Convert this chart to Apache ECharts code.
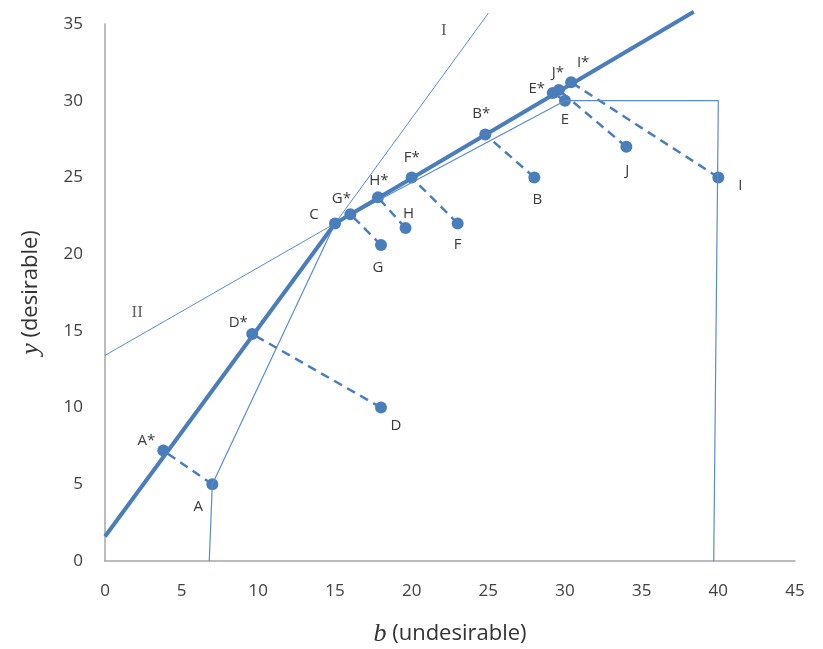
<!DOCTYPE html>
<html>
<head>
<meta charset="utf-8">
<script src="https://cdn.jsdelivr.net/npm/echarts@6/dist/echarts.min.js"></script>
<style>
  html, body { margin: 0; padding: 0; background: #fff; }
  #main { width: 823px; height: 649px; }
</style>
</head>
<body>
<div id="main"></div>
<script>
// observed units and their projections on the frontier
var names = ['A', 'B', 'C', 'D', 'E', 'F', 'G', 'H', 'I', 'J'];
var obsX = [7, 28, 15, 18, 30, 23, 18, 19.6, 40, 34];
var obsY = [5, 25, 22, 10, 30, 22, 20.6, 21.7, 25, 27];
var projX = [3.8, 24.8, 15, 9.6, 29.2, 20, 16, 17.8, 30.4, 29.6];
var projY = [7.2, 27.8, 22, 14.8, 30.5, 25, 22.6, 23.7, 31.2, 30.7];

// thick frontier and thin reference lines
var frontierX = [0, 15, 38.4];
var frontierY = [1.6, 22, 35.8];
var hullX = [6.8, 7, 15, 30, 40, 39.7];
var hullY = [0, 5, 22, 30, 30, 0];
var lineIX = [15, 25];
var lineIY = [22, 35.7];
var lineIIX = [0, 15];
var lineIIY = [13.4, 22];
var lineTags = ['I', 'II'];
var lineTagX = [22.1, 2.1];
var lineTagY = [34.6, 16.2];

var xTicks = [0, 45, 5];
var yTicks = [0, 35, 5];

// label offsets (pixels), style only
var obsOffset = {
  A: [-14, 22], B: [3, 22], C: [-21, -9], D: [15, 18], E: [0, 19],
  F: [0, 21], G: [-3, 23], H: [3, -14], I: [22, 8], J: [1, 24]
};
var projOffset = {
  A: [-17, -10], B: [-4, -21], D: [-14, -11], E: [-16, -4],
  F: [0, -20], G: [-9, -16], H: [1, -17], I: [12, -20], J: [-1, -17]
};

var blue = '#4a7ebb';
var thin = '#5a8ccc';

function pairs(xs, ys) {
  return xs.map(function (x, i) { return [x, ys[i]]; });
}

var series = [];

// dashed projections
names.forEach(function (n, i) {
  if (n === 'C') return;
  series.push({
    type: 'line', silent: true, symbol: 'none',
    data: [[obsX[i], obsY[i]], [projX[i], projY[i]]],
    lineStyle: { color: blue, width: 2.5, type: [9, 6] }
  });
});

series.push({
  type: 'line', silent: true, symbol: 'none', clip: false,
  data: pairs(hullX, hullY), lineStyle: { color: thin, width: 1.2 }
});
series.push({
  type: 'line', silent: true, symbol: 'none', clip: false,
  data: pairs(lineIX, lineIY), lineStyle: { color: thin, width: 1 }
});
series.push({
  type: 'line', silent: true, symbol: 'none', clip: false,
  data: pairs(lineIIX, lineIIY), lineStyle: { color: thin, width: 1 }
});
series.push({
  type: 'line', silent: true, symbol: 'none', clip: false,
  data: pairs(frontierX, frontierY), lineStyle: { color: blue, width: 4 }
});

var labelFont = { fontFamily: 'Open Sans', fontSize: 15, color: '#3a3a3a' };

series.push({
  type: 'scatter', symbolSize: 12, itemStyle: { color: blue, opacity: 1 },
  data: names.map(function (n, i) {
    return {
      value: [obsX[i], obsY[i]],
      label: Object.assign({ show: true, formatter: n, position: 'inside', offset: obsOffset[n] }, labelFont)
    };
  })
});
series.push({
  type: 'scatter', symbolSize: 12, itemStyle: { color: blue, opacity: 1 },
  data: names.map(function (n, i) {
    if (n === 'C') return null;
    return {
      value: [projX[i], projY[i]],
      label: Object.assign({ show: true, formatter: n + '*', position: 'inside', offset: projOffset[n] }, labelFont)
    };
  }).filter(Boolean)
});
series.push({
  type: 'scatter', symbolSize: 0, silent: true,
  data: lineTags.map(function (t, i) {
    return {
      value: [lineTagX[i], lineTagY[i]],
      label: { show: true, formatter: t, position: 'inside', fontFamily: 'Liberation Serif', fontSize: 17, color: '#3a3a3a' }
    };
  })
});

var chart = echarts.init(document.getElementById('main'));
chart.setOption({
  animation: false,
  backgroundColor: '#fff',
  grid: { left: 105, right: 28, top: 24, bottom: 88, outerBoundsMode: 'none', containLabel: false },
  xAxis: {
    type: 'value', min: xTicks[0], max: xTicks[1], interval: xTicks[2],
    splitLine: { show: false }, axisTick: { show: false },
    axisLine: { lineStyle: { color: '#a6a6a6', width: 1.5 } },
    axisLabel: { margin: 22, fontFamily: 'Open Sans', fontSize: 17, color: '#404040' },
    name: '{i|b} (undesirable)', nameLocation: 'middle', nameGap: 60,
    nameTextStyle: {
      fontFamily: 'Open Sans', fontSize: 22, color: '#333',
      rich: { i: { fontFamily: 'Liberation Serif', fontStyle: 'italic', fontSize: 26, color: '#333' } }
    }
  },
  yAxis: {
    type: 'value', min: yTicks[0], max: yTicks[1], interval: yTicks[2],
    splitLine: { show: false }, axisTick: { show: false },
    axisLine: { lineStyle: { color: '#a6a6a6', width: 1.5 } },
    axisLabel: { margin: 22, fontFamily: 'Open Sans', fontSize: 17, color: '#404040' },
    name: '{i|y} (desirable)', nameLocation: 'middle', nameGap: 61,
    nameTextStyle: {
      fontFamily: 'Open Sans', fontSize: 22, color: '#333',
      rich: { i: { fontFamily: 'Liberation Serif', fontStyle: 'italic', fontSize: 26, color: '#333' } }
    }
  },
  series: series
});
</script>
</body>
</html>
